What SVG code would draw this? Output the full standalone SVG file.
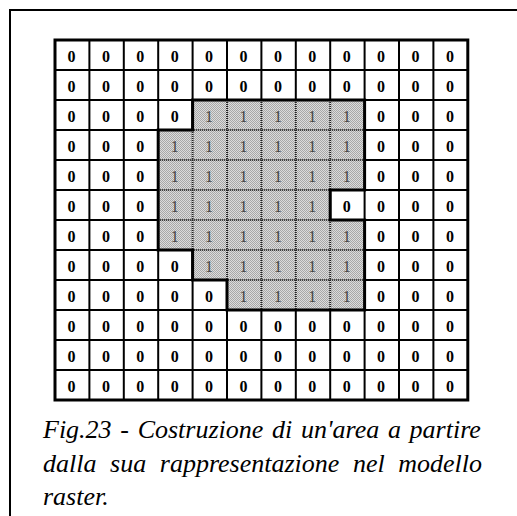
<svg xmlns="http://www.w3.org/2000/svg" width="517" height="516" viewBox="0 0 517 516">
<style>
.frame{fill:none;stroke:#000;stroke-width:2}
.grid{stroke:#000;stroke-width:2;fill:none}
.dot{stroke:#222;stroke-width:2;stroke-dasharray:1 1;fill:none}
.outline{fill:none;stroke:#000;stroke-width:3;stroke-linejoin:miter}
.border{fill:none;stroke:#000;stroke-width:3}
.z{font-family:"Liberation Serif","Times New Roman",serif;font-weight:bold;font-size:16px;fill:#000;text-anchor:middle}
.o{font-family:"Liberation Serif","Times New Roman",serif;font-size:16px;fill:#444;text-anchor:middle}
.cap{font-family:"Liberation Serif","Times New Roman",serif;font-style:italic;font-size:26px;fill:#000}
</style>
<defs>
<pattern id="dither" width="2" height="2" patternUnits="userSpaceOnUse">
<rect width="2" height="2" fill="#dcdcdc"/>
<rect width="1" height="1" fill="#a8a8a8"/>
<rect x="1" y="1" width="1" height="1" fill="#a8a8a8"/>
</pattern>
<clipPath id="reg">
<path d="M192.6,100 H364.6 V190 H330.2 V220 H364.6 V310 H227 V280 H192.6 V250 H158.2 V130 H192.6 Z"/>
</clipPath>
</defs>
<rect width="517" height="516" fill="#fff"/>
<path class="frame" d="M10,516 V10 H517"/>
<g id="grid-lines">
<path class="grid" d="M89.4,40V400M123.8,40V400M158.2,40V400M192.6,40V400M227,40V400M261.4,40V400M295.8,40V400M330.2,40V400M364.6,40V400M399,40V400M433.4,40V400M55,70H467.8M55,100H467.8M55,130H467.8M55,160H467.8M55,190H467.8M55,220H467.8M55,250H467.8M55,280H467.8M55,310H467.8M55,340H467.8M55,370H467.8"/>
</g>
<g id="area">
<path d="M192.6,100 H364.6 V190 H330.2 V220 H364.6 V310 H227 V280 H192.6 V250 H158.2 V130 H192.6 Z" fill="url(#dither)"/>
<path class="dot" clip-path="url(#reg)" d="M192.6,100V310M227,100V310M261.4,100V310M295.8,100V310M330.2,100V310M158.2,130H364.6M158.2,160H364.6M158.2,190H364.6M158.2,220H364.6M158.2,250H364.6M158.2,280H364.6"/>
<path class="outline" d="M192.6,100 H364.6 V190 H330.2 V220 H364.6 V310 H227 V280 H192.6 V250 H158.2 V130 H192.6 Z"/>
</g>
<rect class="border" x="55" y="40" width="412.8" height="360"/>
<g id="row0" class="z">
<text x="71.5" y="62">0</text><text x="105.9" y="62">0</text><text x="140.3" y="62">0</text><text x="174.7" y="62">0</text><text x="209.1" y="62">0</text><text x="243.5" y="62">0</text><text x="277.9" y="62">0</text><text x="312.3" y="62">0</text><text x="346.7" y="62">0</text><text x="381.1" y="62">0</text><text x="415.5" y="62">0</text><text x="449.9" y="62">0</text>
</g>
<g id="row1" class="z">
<text x="71.5" y="92">0</text><text x="105.9" y="92">0</text><text x="140.3" y="92">0</text><text x="174.7" y="92">0</text><text x="209.1" y="92">0</text><text x="243.5" y="92">0</text><text x="277.9" y="92">0</text><text x="312.3" y="92">0</text><text x="346.7" y="92">0</text><text x="381.1" y="92">0</text><text x="415.5" y="92">0</text><text x="449.9" y="92">0</text>
</g>
<g id="row2">
<g class="z"><text x="71.5" y="122">0</text><text x="105.9" y="122">0</text><text x="140.3" y="122">0</text><text x="174.7" y="122">0</text><text x="381.1" y="122">0</text><text x="415.5" y="122">0</text><text x="449.9" y="122">0</text></g>
<g class="o"><text x="209.1" y="122">1</text><text x="243.5" y="122">1</text><text x="277.9" y="122">1</text><text x="312.3" y="122">1</text><text x="346.7" y="122">1</text></g>
</g>
<g id="row3">
<g class="z"><text x="71.5" y="152">0</text><text x="105.9" y="152">0</text><text x="140.3" y="152">0</text><text x="381.1" y="152">0</text><text x="415.5" y="152">0</text><text x="449.9" y="152">0</text></g>
<g class="o"><text x="174.7" y="152">1</text><text x="209.1" y="152">1</text><text x="243.5" y="152">1</text><text x="277.9" y="152">1</text><text x="312.3" y="152">1</text><text x="346.7" y="152">1</text></g>
</g>
<g id="row4">
<g class="z"><text x="71.5" y="182">0</text><text x="105.9" y="182">0</text><text x="140.3" y="182">0</text><text x="381.1" y="182">0</text><text x="415.5" y="182">0</text><text x="449.9" y="182">0</text></g>
<g class="o"><text x="174.7" y="182">1</text><text x="209.1" y="182">1</text><text x="243.5" y="182">1</text><text x="277.9" y="182">1</text><text x="312.3" y="182">1</text><text x="346.7" y="182">1</text></g>
</g>
<g id="row5">
<g class="z"><text x="71.5" y="212">0</text><text x="105.9" y="212">0</text><text x="140.3" y="212">0</text><text x="346.7" y="212">0</text><text x="381.1" y="212">0</text><text x="415.5" y="212">0</text><text x="449.9" y="212">0</text></g>
<g class="o"><text x="174.7" y="212">1</text><text x="209.1" y="212">1</text><text x="243.5" y="212">1</text><text x="277.9" y="212">1</text><text x="312.3" y="212">1</text></g>
</g>
<g id="row6">
<g class="z"><text x="71.5" y="242">0</text><text x="105.9" y="242">0</text><text x="140.3" y="242">0</text><text x="381.1" y="242">0</text><text x="415.5" y="242">0</text><text x="449.9" y="242">0</text></g>
<g class="o"><text x="174.7" y="242">1</text><text x="209.1" y="242">1</text><text x="243.5" y="242">1</text><text x="277.9" y="242">1</text><text x="312.3" y="242">1</text><text x="346.7" y="242">1</text></g>
</g>
<g id="row7">
<g class="z"><text x="71.5" y="272">0</text><text x="105.9" y="272">0</text><text x="140.3" y="272">0</text><text x="174.7" y="272">0</text><text x="381.1" y="272">0</text><text x="415.5" y="272">0</text><text x="449.9" y="272">0</text></g>
<g class="o"><text x="209.1" y="272">1</text><text x="243.5" y="272">1</text><text x="277.9" y="272">1</text><text x="312.3" y="272">1</text><text x="346.7" y="272">1</text></g>
</g>
<g id="row8">
<g class="z"><text x="71.5" y="302">0</text><text x="105.9" y="302">0</text><text x="140.3" y="302">0</text><text x="174.7" y="302">0</text><text x="209.1" y="302">0</text><text x="381.1" y="302">0</text><text x="415.5" y="302">0</text><text x="449.9" y="302">0</text></g>
<g class="o"><text x="243.5" y="302">1</text><text x="277.9" y="302">1</text><text x="312.3" y="302">1</text><text x="346.7" y="302">1</text></g>
</g>
<g id="row9" class="z">
<text x="71.5" y="332">0</text><text x="105.9" y="332">0</text><text x="140.3" y="332">0</text><text x="174.7" y="332">0</text><text x="209.1" y="332">0</text><text x="243.5" y="332">0</text><text x="277.9" y="332">0</text><text x="312.3" y="332">0</text><text x="346.7" y="332">0</text><text x="381.1" y="332">0</text><text x="415.5" y="332">0</text><text x="449.9" y="332">0</text>
</g>
<g id="row10" class="z">
<text x="71.5" y="362">0</text><text x="105.9" y="362">0</text><text x="140.3" y="362">0</text><text x="174.7" y="362">0</text><text x="209.1" y="362">0</text><text x="243.5" y="362">0</text><text x="277.9" y="362">0</text><text x="312.3" y="362">0</text><text x="346.7" y="362">0</text><text x="381.1" y="362">0</text><text x="415.5" y="362">0</text><text x="449.9" y="362">0</text>
</g>
<g id="row11" class="z">
<text x="71.5" y="392">0</text><text x="105.9" y="392">0</text><text x="140.3" y="392">0</text><text x="174.7" y="392">0</text><text x="209.1" y="392">0</text><text x="243.5" y="392">0</text><text x="277.9" y="392">0</text><text x="312.3" y="392">0</text><text x="346.7" y="392">0</text><text x="381.1" y="392">0</text><text x="415.5" y="392">0</text><text x="449.9" y="392">0</text>
</g>
<g id="caption" class="cap">
<text x="43" y="438" style="word-spacing:2.2px">Fig.23 - Costruzione di un'area a partire</text>
<text x="43" y="471.5" style="word-spacing:7.1px">dalla sua rappresentazione nel modello</text>
<text x="43" y="505">raster.</text>
</g>
</svg>
